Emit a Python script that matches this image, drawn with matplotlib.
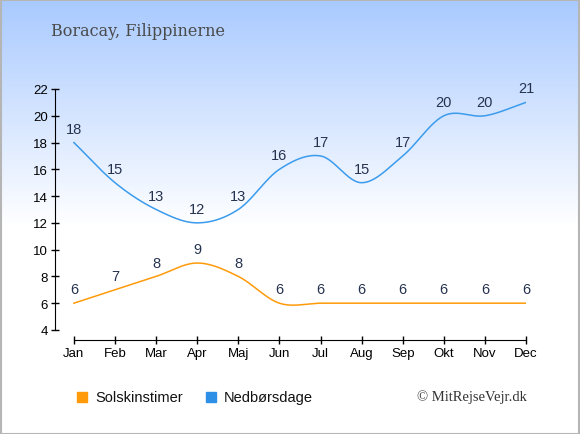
import numpy as np
import matplotlib
matplotlib.use("Agg")
import matplotlib.pyplot as plt
from matplotlib.patches import Rectangle

months = ["Jan", "Feb", "Mar", "Apr", "Maj", "Jun",
          "Jul", "Aug", "Sep", "Okt", "Nov", "Dec"]
sun_hours = [6, 7, 8, 9, 8, 6, 6, 6, 6, 6, 6, 6]
rain_days = [18, 15, 13, 12, 13, 16, 17, 15, 17, 20, 20, 21]

title = "Boracay, Filippinerne"
sun_label = "Solskinstimer"
rain_label = "Nedbørsdage"
credit = "© MitRejseVejr.dk"

ORANGE = "#ff9a0a"
BLUE = "#3b9bec"
LABEL_COLOR = "#26334f"

W, H = 580, 435


def smooth_line(ys, steps=40):
    """Catmull-Rom curve through the points, only for drawing."""
    ys = np.asarray(ys, dtype=float)
    n = len(ys)
    pad = np.concatenate([[2 * ys[0] - ys[1]], ys, [2 * ys[-1] - ys[-2]]])
    xs_out, ys_out = [], []
    t = np.linspace(0, 1, steps)
    for i in range(n - 1):
        p0, p1, p2, p3 = pad[i], pad[i + 1], pad[i + 2], pad[i + 3]
        m1 = (p2 - p0) / 2
        m2 = (p3 - p1) / 2
        h00 = 2 * t**3 - 3 * t**2 + 1
        h10 = t**3 - 2 * t**2 + t
        h01 = -2 * t**3 + 3 * t**2
        h11 = t**3 - t**2
        xs_out.append(i + t)
        ys_out.append(h00 * p1 + h10 * m1 + h01 * p2 + h11 * m2)
    return np.concatenate(xs_out), np.concatenate(ys_out)


fig = plt.figure(figsize=(W / 100, H / 100), dpi=100)

# background gradient
bg = fig.add_axes([0, 0, 1, 1], zorder=-1)
rows = np.linspace(0, 1, H)
frac = np.clip(rows / 0.52, 0, 1)
top = np.array([0.66, 0.79, 1.0])
grad = top[None, :] * (1 - frac[:, None]) + np.ones(3)[None, :] * frac[:, None]
bg.imshow(grad[:, None, :], aspect="auto", extent=[0, 1, 0, 1])
bg.set_xlim(0, 1)
bg.set_ylim(0, 1)
bg.axis("off")
bg.add_patch(Rectangle((0.001, 0.001), 0.997, 0.996, fill=False,
                       edgecolor="#b5b5b5", lw=1.5, transform=bg.transAxes))

ax = fig.add_axes([55 / W, (H - 341) / H, (526 - 55) / W, (341 - 90) / H])
ax.patch.set_alpha(0)

x = np.arange(len(months))
for vals, col in [(sun_hours, ORANGE), (rain_days, BLUE)]:
    sx, sy = smooth_line(vals)
    ax.plot(sx, sy, color=col, lw=1.1)
    for xi, v in zip(x, vals):
        ax.annotate(str(v), (xi, v), xytext=(0, 10), textcoords="offset points",
                    ha="center", va="center", fontsize=10.5, color=LABEL_COLOR,
                    family="Liberation Sans")

ax.set_xlim(-0.46, 11)
ax.set_ylim(3.25, 22)
ax.set_xticks(x)
ax.set_xticklabels(months, family="Liberation Sans", fontsize=9.5)
ax.set_yticks(range(4, 23, 2))
ax.set_yticklabels([str(v) for v in range(4, 23, 2)], family="Liberation Sans", fontsize=9.5)
ax.spines["top"].set_visible(False)
ax.spines["right"].set_visible(False)
ax.spines["left"].set_bounds(4, 22)
ax.spines["bottom"].set_bounds(0, 11)
ax.tick_params(axis="x", direction="inout", length=6, width=1, pad=2)
ax.tick_params(axis="y", direction="inout", length=6, width=1, pad=2)

fig.text(51 / W, 1 - 32 / H, title, family="DejaVu Serif", fontsize=11.5,
         color="#4a4a4a", va="center", ha="left")

# legend
for x0, col, lab in [(77, ORANGE, sun_label), (206, "#2e8fe6", rain_label)]:
    fig.patches.append(Rectangle((x0 / W, 1 - 403 / H), 10 / W, 10 / H,
                                 color=col, transform=fig.transFigure))
    fig.text((x0 + 18) / W, 1 - 398 / H, lab, family="Liberation Sans",
             fontsize=10.5, va="center", ha="left", color="#111111")

fig.text(527 / W, 1 - 397 / H, credit, family="Liberation Serif", fontsize=10.5,
         va="center", ha="right", color="#333333")

fig.savefig("out.png", dpi=100)
